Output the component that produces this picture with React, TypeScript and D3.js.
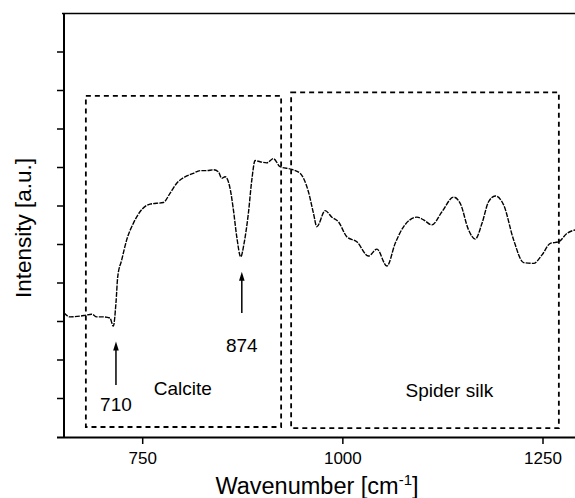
import React from 'react';
import * as d3 from 'd3';

// spectrum (wavenumber, intensity in tick units)
const wavenumbers = [
  651.6, 659.1, 671.6, 677.9, 686.3, 692.5, 700.4, 709.1, 713.3, 716.6, 718.8, 723.8,
  730, 738.3, 746.6, 759.1, 767.5, 775.8, 784.1, 792.5, 805, 813.3, 821.6, 830, 838.3,
  844.5, 848.8, 852.9, 859.1, 863.3, 867.5, 872.5, 876.6, 882, 886.3, 890.4, 896.6, 905,
  913.3, 921.6, 936.3, 946.6, 957, 963.3, 967.5, 977.9, 986.3, 994.5, 1005, 1017.5, 1032,
  1042.5, 1055, 1065.4, 1075.8, 1092.5, 1100.8, 1111.3, 1123.8, 1138.3, 1146.6, 1157,
  1165.4, 1173.8, 1182, 1190.4, 1200.8, 1213.3, 1225.8, 1238.3, 1248.8, 1259.1, 1269.5,
  1280, 1290.4,
];
const intensity = [
  3.23, 3.12, 3.14, 3.16, 3.19, 3.12, 3.12, 3.09, 2.88, 3.48, 4.16, 4.6,
  5.12, 5.55, 5.85, 6.05, 6.07, 6.09, 6.33, 6.59, 6.78, 6.85, 6.92, 6.92, 6.94,
  6.89, 6.72, 6.76, 6.46, 5.9, 5.2, 4.68, 5.03, 5.81, 6.68, 7.18, 7.15, 7.12,
  7.23, 7.02, 6.95, 6.85, 6.37, 5.81, 5.46, 5.88, 5.71, 5.59, 5.2, 5.07, 4.7,
  4.88, 4.44, 5.03, 5.46, 5.71, 5.64, 5.51, 5.85, 6.23, 6.07, 5.38,
  5.14, 5.55, 6.11, 6.26, 6.03, 5.12, 4.53, 4.51, 4.73, 5.03, 5.07,
  5.29, 5.38,
];

const xTicks = [750, 1000, 1250];
const yTicks = [1, 2, 3, 4, 5, 6, 7, 8, 9, 10];

const boxes = [
  { label: 'Calcite', x0: 679, x1: 922.9, y0: 0.26, y1: 8.86, labelX: 800, labelY: 1.08 },
  { label: 'Spider silk', x0: 935.4, x1: 1269.8, y0: 0.23, y1: 8.95, labelX: 1133, labelY: 1.03 },
];

const peaks = [
  { label: '710', x: 716.6, tip: 2.48, tail: 1.35, textY: 0.675 },
  { label: '874', x: 873.8, tip: 4.29, tail: 3.22, textY: 2.22 },
];

const W = 575;
const H = 498;
const font = "Arial, 'Liberation Sans', sans-serif";

const App: React.FC = () => {
  const x = d3.scaleLinear().domain([750, 1250]).range([142.7, 543]);
  const y = d3.scaleLinear().domain([0, 11]).range([437, 13.5]);
  const left = 64;

  const pts = wavenumbers.map((w, i) => [w, intensity[i]] as [number, number]);
  const line = d3.line<[number, number]>()
    .x(d => x(d[0]))
    .y(d => y(d[1]))
    .curve(d3.curveMonotoneX);

  return (
    <svg width={W} height={H} style={{ position: 'absolute', left: 0, top: 0, background: '#fff' }}
      fontFamily={font}>
      {/* frame: top line, left axis, bottom axis */}
      <line x1={left - 2} x2={W} y1={y(11)} y2={y(11)} stroke="#000" strokeWidth={1.6} />
      <line x1={left} x2={left} y1={y(11)} y2={y(0)} stroke="#000" strokeWidth={2} />
      <line x1={57} x2={W} y1={y(0) + 0.5} y2={y(0) + 0.5} stroke="#000" strokeWidth={2} />

      {yTicks.map(t => (
        <line key={t} x1={left - 7} x2={left} y1={y(t)} y2={y(t)} stroke="#000" strokeWidth={1.5} />
      ))}
      {xTicks.map(t => (
        <g key={t}>
          <line x1={x(t)} x2={x(t)} y1={y(0)} y2={y(0) + 7} stroke="#000" strokeWidth={1.5} />
          <text x={x(t)} y={464} textAnchor="middle" fontSize={17}>{t}</text>
        </g>
      ))}

      <text x={317} y={494} textAnchor="middle" fontSize={23.5}>
        Wavenumber [cm<tspan dy={-9} fontSize={15}>-1</tspan><tspan dy={9}>]</tspan>
      </text>
      <text transform="translate(31,228) rotate(-90)" textAnchor="middle" fontSize={22.5}>
        Intensity [a.u.]
      </text>

      {boxes.map(b => (
        <g key={b.label}>
          <rect x={x(b.x0)} y={y(b.y1)} width={x(b.x1) - x(b.x0)} height={y(b.y0) - y(b.y1)}
            fill="none" stroke="#000" strokeWidth={1.8} strokeDasharray="5 4" />
          <text x={x(b.labelX)} y={y(b.labelY)} textAnchor="middle" fontSize={19}>{b.label}</text>
        </g>
      ))}

      <path d={line(pts) ?? ''} fill="none" stroke="#000" strokeWidth={1.4} strokeDasharray="5 1.2" />

      {peaks.map(p => {
        const px = x(p.x);
        const tip = y(p.tip);
        return (
          <g key={p.label}>
            <line x1={px} x2={px} y1={tip + 6} y2={y(p.tail)} stroke="#000" strokeWidth={1.5} />
            <path d={`M${px},${tip} L${px - 2.8},${tip + 9} L${px + 2.8},${tip + 9} Z`} fill="#000" />
            <text x={px} y={y(p.textY)} textAnchor="middle" fontSize={19}>{p.label}</text>
          </g>
        );
      })}
    </svg>
  );
};

export default App;
